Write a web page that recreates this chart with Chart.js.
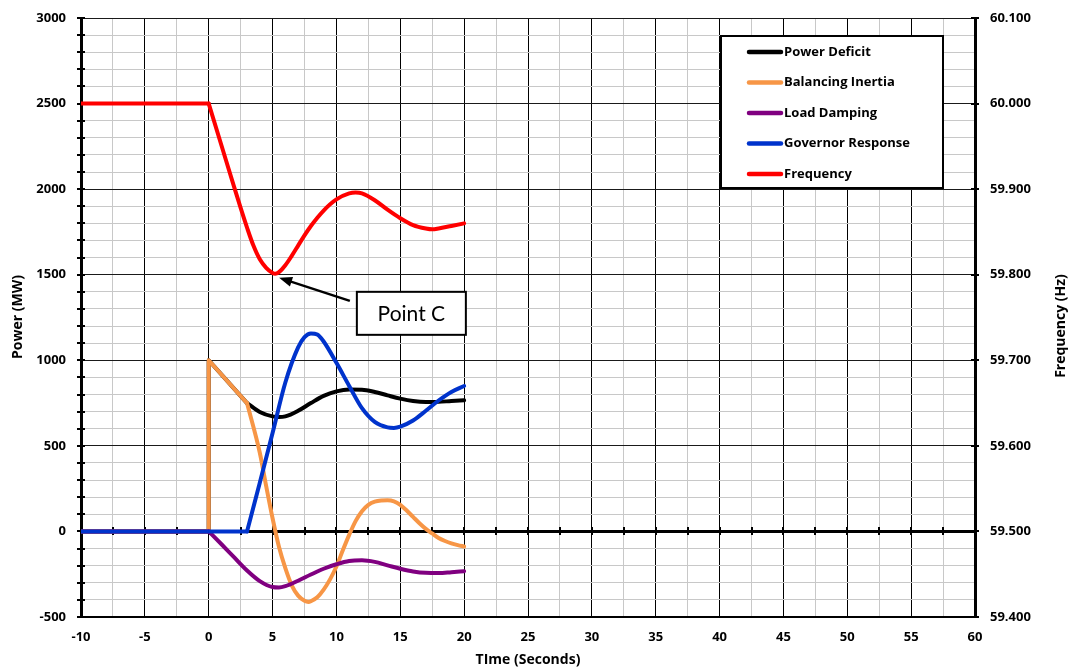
<!DOCTYPE html>
<html>
<head>
<meta charset="utf-8">
<script src="https://cdn.jsdelivr.net/npm/chart.js@4.4.1/dist/chart.umd.min.js"></script>
<style>
  body { margin: 0; background: #fff; }
  canvas { display: block; }
</style>
</head>
<body>
<canvas id="myChart" width="1070" height="669"></canvas>
<script>
// axis ranges
const timeMin = -10, timeMax = 60, timeStep = 2.5;
const powerMin = -500, powerMax = 3000, powerStep = 100;
const freqMin = 59.4, freqMax = 60.1, freqStep = 0.1;

// Power Deficit (MW)
const deficitStepT = [-10, 0, 0, 3];
const deficitStepMW = [0, 0, 1000, 750];
const deficitT = [3, 4, 5, 5.5, 6, 7, 8, 9, 10, 11, 12, 13, 14, 15, 16, 17, 18, 19, 20];
const deficitMW = [750, 698, 672, 668, 672, 705, 750, 792, 818, 829, 828, 815, 795, 776, 762, 756, 757, 762, 766];

// Balancing Inertia (MW)
const inertiaStepT = [-10, 0, 0, 3];
const inertiaStepMW = [0, 0, 1000, 750];
const inertiaT = [3, 4, 4.5, 5, 5.5, 6, 6.5, 7, 7.5, 7.8, 8, 8.5, 9, 9.5, 10, 10.5, 11, 11.5, 12, 12.5, 13, 13.5, 14, 14.5, 15, 15.5, 16, 16.5, 17, 17.5, 18, 18.5, 19, 19.5, 20];
const inertiaMW = [750, 460, 265, 77, -90, -215, -315, -375, -405, -412, -408, -385, -340, -280, -205, -110, -20, 60, 118, 155, 174, 181, 182, 176, 155, 122, 85, 48, 15, -12, -38, -56, -70, -80, -88];

// Load Damping (MW)
const dampingStepT = [-10, 0];
const dampingStepMW = [0, 0];
const dampingT = [0, 1, 2, 3, 4, 5, 5.5, 6, 7, 8, 9, 10, 11, 12, 13, 14, 15, 16, 17, 18, 19, 20];
const dampingMW = [0, -75, -152, -228, -290, -325, -328, -320, -288, -252, -218, -192, -173, -169, -178, -198, -218, -234, -242, -243, -238, -232];

// Governor Response (MW)
const governorStepT = [-10, 3];
const governorStepMW = [0, 0];
const governorT = [3, 4, 5, 6, 7, 7.5, 8, 8.5, 9, 10, 11, 12, 13, 14, 14.5, 15, 16, 17, 18, 19, 20];
const governorMW = [0, 285, 575, 870, 1075, 1135, 1157, 1150, 1110, 985, 850, 720, 640, 608, 605, 612, 648, 705, 765, 815, 850];

// Frequency (Hz)
const freqFlatT = [-10, 0];
const freqFlatHz = [60, 60];
const freqT = [0, 1, 2, 2.5, 3, 3.5, 4, 4.5, 5, 5.2, 5.5, 6, 6.5, 7, 7.5, 8, 9, 10, 11, 11.5, 12, 13, 14, 15, 16, 17, 17.5, 18, 19, 20];
const freqHz = [60.000, 59.951, 59.902, 59.878, 59.855, 59.834, 59.818, 59.808, 59.802, 59.801, 59.803, 59.811, 59.822, 59.834, 59.846, 59.857, 59.875, 59.888, 59.895, 59.896, 59.895, 59.887, 59.876, 59.866, 59.858, 59.854, 59.853, 59.854, 59.857, 59.860];

// annotated point
const pointC = { t: 5.2, hz: 59.8, label: 'Point C' };

const fontName = 'Open Sans';
Chart.defaults.font.family = fontName;

function pts(xs, ys) {
  return xs.map(function(x, i) { return { x: x, y: ys[i] }; });
}

// each series = a straight-line part (steps/corners) + a smooth part
function series(label, color, order, axis, stepT, stepV, curveT, curveV) {
  const base = {
    borderColor: color, backgroundColor: color, borderWidth: 4, pointRadius: 0,
    fill: false, order: order, yAxisID: axis, borderCapStyle: 'round', borderJoinStyle: 'round'
  };
  return [
    Object.assign({}, base, { label: label, data: pts(curveT, curveV), cubicInterpolationMode: 'monotone' }),
    Object.assign({}, base, { label: '', data: pts(stepT, stepV), tension: 0 })
  ];
}

const datasets = [].concat(
  series('Power Deficit', '#000000', 5, 'y', deficitStepT, deficitStepMW, deficitT, deficitMW),
  series('Balancing Inertia', '#F79646', 4, 'y', inertiaStepT, inertiaStepMW, inertiaT, inertiaMW),
  series('Load Damping', '#800080', 3, 'y', dampingStepT, dampingStepMW, dampingT, dampingMW),
  series('Governor Response', '#0033CC', 2, 'y', governorStepT, governorStepMW, governorT, governorMW),
  series('Frequency', '#FF0000', 1, 'y2', freqFlatT, freqFlatHz, freqT, freqHz)
);

// crossing tick marks on the axes and on the zero line
const tickMarks = {
  id: 'tickMarks',
  beforeDatasetsDraw: function(chart) {
    const ctx = chart.ctx, a = chart.chartArea;
    const x = chart.scales.x, y = chart.scales.y, y2 = chart.scales.y2;
    ctx.save();
    ctx.strokeStyle = '#000';
    ctx.lineWidth = 2;
    ctx.beginPath();
    for (let v = powerMin; v <= powerMax; v += powerStep) {
      const py = Math.round(y.getPixelForValue(v));
      ctx.moveTo(a.left - 4, py); ctx.lineTo(a.left + 4, py);
    }
    for (let k = 0; k <= Math.round((freqMax - freqMin) / freqStep); k++) {
      const py = Math.round(y2.getPixelForValue(freqMin + k * freqStep));
      ctx.moveTo(a.right - 4, py); ctx.lineTo(a.right + 4, py);
    }
    const y0 = Math.round(y.getPixelForValue(0));
    for (let t = timeMin; t <= timeMax; t += timeStep) {
      const px = Math.round(x.getPixelForValue(t));
      ctx.moveTo(px, y0 - 4); ctx.lineTo(px, y0 + 4);
    }
    ctx.stroke();
    ctx.restore();
  }
};

// legend box, Point C callout and axis titles
const extras = {
  id: 'extras',
  afterDraw: function(chart) {
    const ctx = chart.ctx, a = chart.chartArea;
    ctx.save();

    // legend
    const lx = 721, ly = 36, lw = 222, lh = 152;
    ctx.fillStyle = '#fff';
    ctx.fillRect(lx, ly, lw, lh);
    ctx.strokeStyle = '#000';
    ctx.lineWidth = 2;
    ctx.strokeRect(lx, ly, lw, lh);
    const items = chart.data.datasets.filter(function(d) { return d.label; });
    ctx.font = 'bold 13px "' + fontName + '"';
    ctx.textBaseline = 'middle';
    ctx.textAlign = 'left';
    items.forEach(function(d, i) {
      const ry = ly + 16 + i * 30.5;
      ctx.strokeStyle = d.borderColor;
      ctx.lineWidth = 4.5;
      ctx.lineCap = 'round';
      ctx.beginPath();
      ctx.moveTo(749, ry); ctx.lineTo(781, ry);
      ctx.stroke();
      ctx.fillStyle = '#000';
      ctx.fillText(d.label, 784, ry);
    });

    // Point C callout
    const tipX = chart.scales.x.getPixelForValue(pointC.t) + 4;
    const tipY = chart.scales.y2.getPixelForValue(pointC.hz) + 3;
    const bx = chart.scales.x.getPixelForValue(11.6);
    const by = chart.scales.y.getPixelForValue(1400);
    const bw = 109, bh = 43;
    const sx = bx - 7, sy = by + 9;
    const ang = Math.atan2(sy - tipY, sx - tipX);
    ctx.strokeStyle = '#000';
    ctx.fillStyle = '#000';
    ctx.lineWidth = 2.5;
    ctx.lineCap = 'butt';
    ctx.beginPath();
    ctx.moveTo(sx, sy);
    ctx.lineTo(tipX + 10 * Math.cos(ang), tipY + 10 * Math.sin(ang));
    ctx.stroke();
    ctx.beginPath();
    ctx.moveTo(tipX, tipY);
    ctx.lineTo(tipX + 13 * Math.cos(ang) - 5 * Math.sin(ang), tipY + 13 * Math.sin(ang) + 5 * Math.cos(ang));
    ctx.lineTo(tipX + 13 * Math.cos(ang) + 5 * Math.sin(ang), tipY + 13 * Math.sin(ang) - 5 * Math.cos(ang));
    ctx.closePath();
    ctx.fill();
    ctx.fillStyle = '#fff';
    ctx.fillRect(bx, by, bw, bh);
    ctx.lineWidth = 2;
    ctx.strokeRect(bx, by, bw, bh);
    ctx.fillStyle = '#000';
    ctx.font = '21px Lato';
    ctx.textAlign = 'center';
    ctx.fillText(pointC.label, bx + bw / 2, by + bh / 2 + 1);

    // axis titles
    ctx.font = 'bold 14px "' + fontName + '"';
    ctx.textAlign = 'center';
    ctx.fillText('TIme (Seconds)', (a.left + a.right) / 2, 660);
    ctx.save();
    ctx.translate(18, 317);
    ctx.rotate(-Math.PI / 2);
    ctx.fillText('Power (MW)', 0, 0);
    ctx.restore();
    ctx.save();
    ctx.translate(1061, 326);
    ctx.rotate(-Math.PI / 2);
    ctx.fillText('Frequency (Hz)', 0, 0);
    ctx.restore();

    ctx.restore();
  }
};

const tickFont = { family: fontName, size: 13, weight: 'bold' };

// fixed axis box sizes so the plot area lands where the original has it
function fixWidth(w) {
  return function(s) { s.width = w; s.paddingTop = 0; s.paddingBottom = 0; };
}

var ctx = document.getElementById('myChart').getContext('2d');
var myChart = new Chart(ctx, {
  type: 'line',
  data: { datasets: datasets },
  options: {
    responsive: false,
    animation: false,
    layout: { padding: { top: 18, left: 0, right: 0, bottom: 0 } },
    plugins: { legend: { display: false }, tooltip: { enabled: false } },
    scales: {
      x: {
        type: 'linear', position: 'bottom', min: timeMin, max: timeMax,
        ticks: {
          stepSize: timeStep, autoSkip: false, maxRotation: 0, padding: 12,
          color: '#000', font: tickFont,
          callback: function(v) { return v % 5 === 0 ? v : ''; }
        },
        grid: {
          drawTicks: false, lineWidth: 1,
          color: function(c) { return c.tick && c.tick.value % 5 === 0 ? '#000' : '#c8c8c8'; }
        },
        border: { color: '#000', width: 2 },
        afterFit: function(s) { s.height = 52; }
      },
      y: {
        position: 'left', min: powerMin, max: powerMax,
        ticks: {
          stepSize: powerStep, autoSkip: false, maxTicksLimit: 100, padding: 15,
          color: '#000', font: tickFont,
          callback: function(v) { return v % 500 === 0 ? v : ''; }
        },
        grid: {
          drawTicks: false,
          lineWidth: function(c) { return c.tick && c.tick.value === 0 ? 3 : 1; },
          color: function(c) {
            if (!c.tick) return '#c8c8c8';
            if (c.tick.value === 0) return '#000';
            return c.tick.value % 500 === 0 ? '#1a1a1a' : '#c8c8c8';
          }
        },
        border: { color: '#000', width: 3 },
        afterFit: fixWidth(81)
      },
      y2: {
        position: 'right', min: freqMin, max: freqMax,
        ticks: {
          stepSize: freqStep, autoSkip: false, maxTicksLimit: 100, padding: 15,
          color: '#000', font: tickFont,
          callback: function(v) { return Number(v).toFixed(3); }
        },
        grid: { drawOnChartArea: false, drawTicks: false },
        border: { color: '#000', width: 3 },
        afterFit: fixWidth(95)
      }
    }
  },
  plugins: [tickMarks, extras]
});
</script>
</body>
</html>
